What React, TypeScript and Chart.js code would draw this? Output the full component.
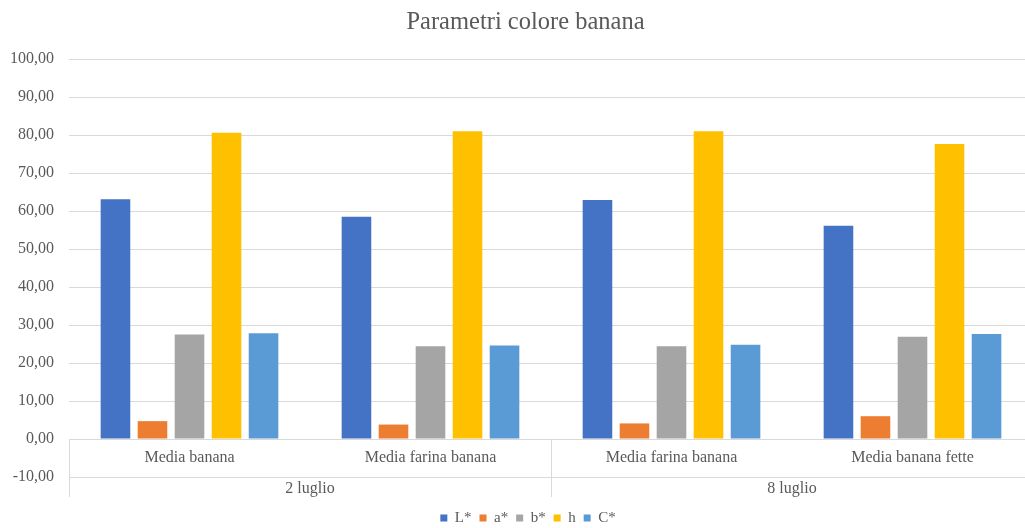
import React, { useEffect, useRef } from "react";
import { Chart, registerables } from "chart.js";

Chart.register(...registerables);

const categories = ["Media banana", "Media farina banana", "Media farina banana", "Media banana fette"];
const groups = ["2 luglio", "8 luglio"];
const groupSpans = [2, 2];
const seriesNames = ["L*", "a*", "b*", "h", "C*"];
const seriesColors = ["#4472C4", "#ED7D31", "#A5A5A5", "#FFC000", "#5B9BD5"];
const valuesL = [63.1, 58.5, 62.9, 56.1];
const valuesA = [4.7, 3.8, 4.1, 6.0];
const valuesB = [27.5, 24.4, 24.4, 26.9];
const valuesH = [80.6, 81.0, 81.0, 77.6];
const valuesC = [27.8, 24.6, 24.8, 27.6];
const titleText = "Parametri colore banana";
const yMin = -10;
const yMax = 100;
const yStep = 10;

const FONT = "'Liberation Serif', 'Times New Roman', serif";
const TEXT = "#595959";
const GRID = "#d9d9d9";

const multiLevelAxis = {
  id: "multiLevelAxis",
  afterLayout(chart: any) {
    const lg = chart.legend;
    if (lg) {
      lg.left += 11.5;
      lg.right += 11.5;
    }
    const tt = chart.titleBlock;
    if (tt) {
      tt.left += 9;
      tt.right += 9;
    }
  },
  afterDatasetsDraw(chart: any) {
    const { ctx, chartArea, scales } = chart;
    const x = scales.x;
    const y = scales.y;
    const y0 = y.getPixelForValue(0);
    const yM = y.getPixelForValue(yMin);
    const yBottom = yM + 20;
    ctx.save();
    ctx.fillStyle = TEXT;
    ctx.textAlign = "center";
    ctx.textBaseline = "middle";
    ctx.font = "16px " + FONT;
    categories.forEach((c, i) => {
      ctx.fillText(c, x.getPixelForTick(i), (y0 + yM) / 2);
    });
    const boundary = (i: number) => {
      if (i <= 0) return chartArea.left;
      if (i >= categories.length) return chartArea.right;
      return (x.getPixelForTick(i - 1) + x.getPixelForTick(i)) / 2;
    };
    let start = 0;
    const lines: number[] = [chartArea.left];
    groups.forEach((g, gi) => {
      const end = start + groupSpans[gi];
      const l = boundary(start);
      const r = boundary(end);
      ctx.fillText(g, (l + r) / 2, yM + 12);
      if (end < categories.length) lines.push(r);
      start = end;
    });
    ctx.strokeStyle = GRID;
    ctx.lineWidth = 1;
    lines.forEach((lx) => {
      const px = Math.round(lx) + 0.5;
      ctx.beginPath();
      ctx.moveTo(px, y0);
      ctx.lineTo(px, yBottom);
      ctx.stroke();
    });
    ctx.restore();
  },
};

export default function App() {
  const ref = useRef<HTMLCanvasElement>(null);
  useEffect(() => {
    if (!ref.current) return;
    const allValues = [valuesL, valuesA, valuesB, valuesH, valuesC];
    const chart = new Chart(ref.current, {
      type: "bar",
      data: {
        labels: categories,
        datasets: seriesNames.map((n, i) => ({
          label: n,
          data: allValues[i],
          backgroundColor: seriesColors[i],
          borderWidth: 0,
          categoryPercentage: 0.768,
          barPercentage: 0.8,
        })),
      },
      options: {
        responsive: false,
        animation: false,
        devicePixelRatio: 1,
        layout: { padding: { left: 0, right: 19, top: 0, bottom: -7.5 } },
        plugins: {
          title: {
            display: true,
            text: titleText,
            color: TEXT,
            font: { family: FONT, size: 24.5, weight: "normal" },
            padding: { top: 8, bottom: 21.6 },
          },
          legend: {
            position: "bottom",
            labels: {
              color: TEXT,
              font: { family: FONT, size: 15 },
              boxWidth: 7,
              boxHeight: 7,
              padding: 8,
            },
          },
          tooltip: { enabled: false },
        },
        scales: {
          x: {
            type: "category",
            grid: { display: false },
            border: { display: false },
            ticks: { display: false },
            afterFit: (s: any) => {
              s.height = 25.5;
            },
          },
          y: {
            min: yMin,
            max: yMax,
            ticks: {
              stepSize: yStep,
              color: TEXT,
              font: { family: FONT, size: 16 },
              padding: 15,
              callback: (v: any) => Number(v).toFixed(2).replace(".", ","),
            },
            grid: { color: GRID, drawTicks: false, lineWidth: 1 },
            border: { display: false },
            afterFit: (s: any) => {
              s.width = 69;
            },
          },
        },
      },
      plugins: [multiLevelAxis],
    });
    return () => chart.destroy();
  }, []);
  return (
    <div style={{ position: "fixed", left: 0, top: 0, width: 1025, height: 528, overflow: "hidden", background: "#fff" }}>
      <canvas ref={ref} width={1052} height={528} style={{ width: 1052, height: 528, display: "block" }} />
    </div>
  );
}
